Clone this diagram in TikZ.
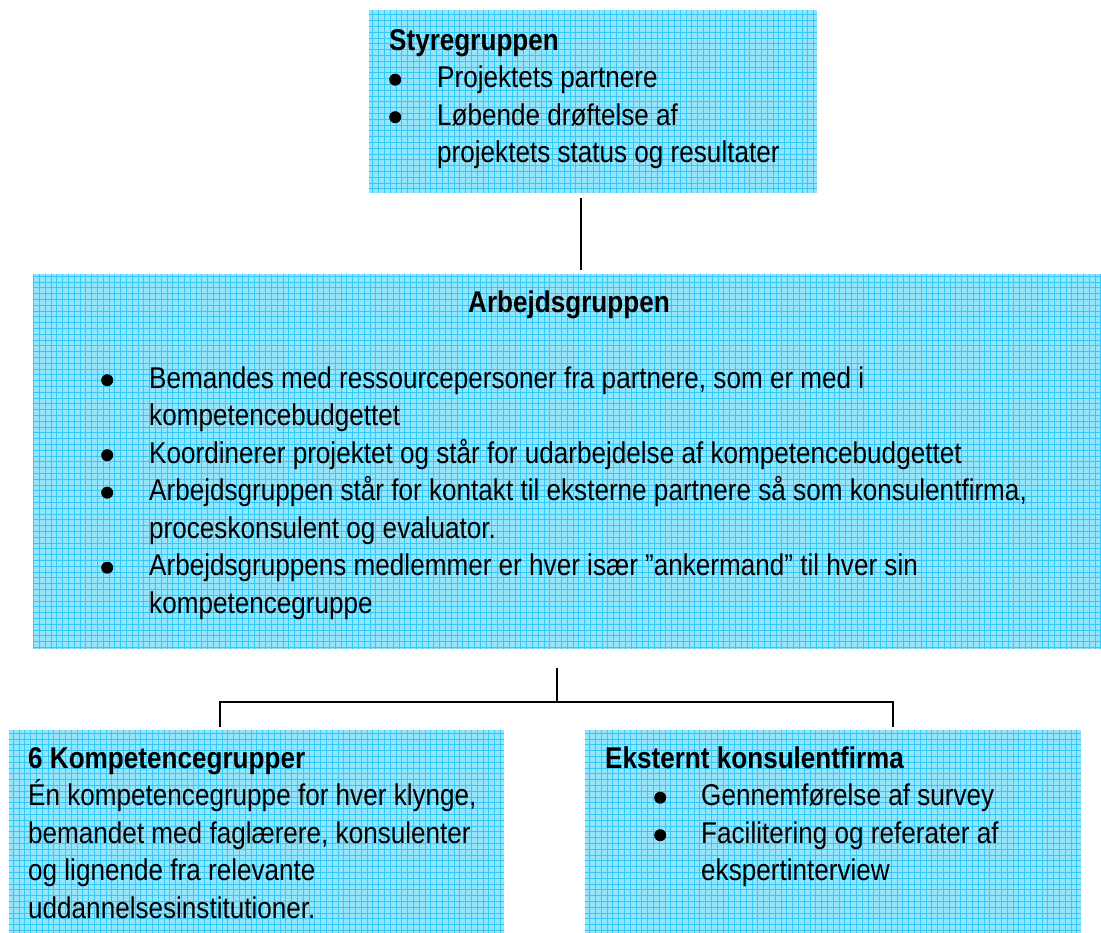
\documentclass[tikz,border=0pt]{standalone}
\usepackage{fontspec}
\setmainfont[FakeStretch=0.87]{Liberation Sans}
\usetikzlibrary{positioning, calc}

\definecolor{boxfill}{RGB}{148,228,252}
\definecolor{boxgrid}{RGB}{50,200,248}
\newcommand{\bul}[1][48pt]{\makebox[#1][l]{\tikz[baseline=0pt]\fill (7pt,8pt) circle[radius=6pt];}}

\begin{document}
\begin{tikzpicture}[x=1pt, y=-1pt]
        \tikzstyle{grp}=[rectangle, fill=boxfill, inner sep=0pt, anchor=north west,
          path picture={\draw[boxgrid, line width=0.7pt, step=5.8pt]
            (path picture bounding box.south west) grid (path picture bounding box.north east);}];
        \tikzstyle{txt}=[inner sep=0pt, align=left, anchor=north west,
          font=\fontsize{30}{37.5}\selectfont];
        \tikzstyle{link}=[line width=1.6pt];
        \useasboundingbox (0,0) rectangle (1101,933);

        \node[grp, minimum width=448, minimum height=183] (styre) at (369,10) {};
        \node[grp, minimum width=1068, minimum height=375] (arbejd) at (33,274) {};
        \node[grp, minimum width=495, minimum height=203] (kompetence) at (9,730) {};
        \node[grp, minimum width=496, minimum height=203] (konsulent) at (585,730) {};

        \node[txt] (styretxt) at (389,23.75)
          {\strut\textbf{Styregruppen}\\
           \bul Projektets partnere\\
           \bul Løbende drøftelse af\\
           \hspace*{48pt}projektets status og resultater};
        \node[txt, anchor=base] (arbejdtitle) at (569,313) {\textbf{Arbejdsgruppen}};
        \node[txt] (arbejdtxt) at (101,361.75)
          {\strut\bul[48pt]Bemandes med ressourcepersoner fra partnere, som er med i\\
           \hspace*{48pt}kompetencebudgettet\\
           \bul[48pt]Koordinerer projektet og står for udarbejdelse af kompetencebudgettet\\
           \bul[48pt]Arbejdsgruppen står for kontakt til eksterne partnere så som konsulentfirma,\\
           \hspace*{48pt}proceskonsulent og evaluator.\\
           \bul[48pt]Arbejdsgruppens medlemmer er hver især ”ankermand” til hver sin\\
           \hspace*{48pt}kompetencegruppe};
        \node[txt] (kompetencetxt) at (28,741.75)
          {\strut\textbf{6 Kompetencegrupper}\\
           Én kompetencegruppe for hver klynge,\\
           bemandet med faglærere, konsulenter\\
           og lignende fra relevante\\
           uddannelsesinstitutioner.};
        \node[txt] (konsulenttxt) at (605,741.75)
          {\strut\textbf{Eksternt konsulentfirma}\\
           \hspace*{49pt}\bul[47pt]Gennemførelse af survey\\
           \hspace*{49pt}\bul[47pt]Facilitering og referater af\\
           \hspace*{96pt}ekspertinterview};

        \coordinate (fork) at (557,702);
        \coordinate (forkleft) at (220,702);
        \coordinate (forkright) at (893,702);

        \draw[link, shorten <=5pt, shorten >=4pt] ([xshift=-12pt]styre.south) -- ([xshift=-12pt]styre.south |- arbejd.north);
        \draw[link, shorten <=19pt] (fork |- arbejd.south) -- (fork);
        \draw[link, shorten <=3pt, shorten >=3pt] (forkleft |- kompetence.north) -- (forkleft) -- (forkright) -- (forkright |- konsulent.north);
      \end{tikzpicture}
\end{document}
